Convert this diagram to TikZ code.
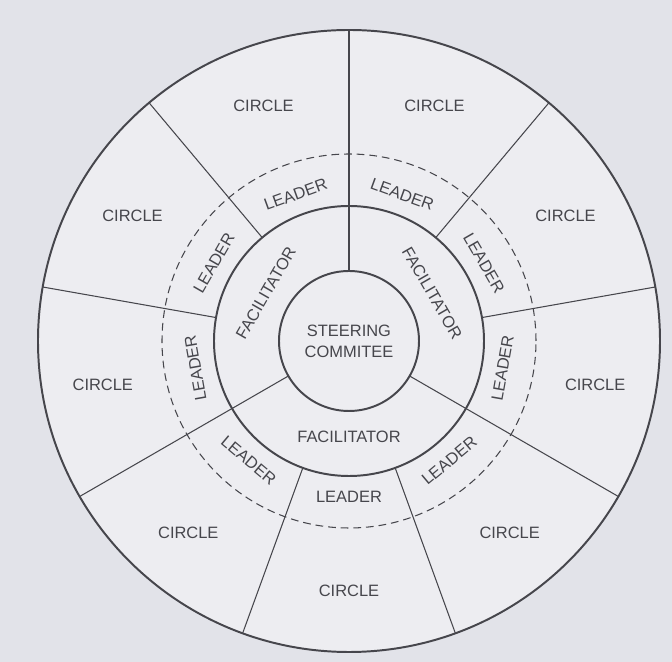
\documentclass[tikz,border=0pt]{standalone}
\usepackage{fontspec}
\setmainfont{Liberation Sans}
\definecolor{cpaper}{RGB}{226,227,233}
\definecolor{cdisk}{RGB}{237,237,241}
\definecolor{cink}{RGB}{70,70,76}
\tikzset{
  every picture/.style={font=\fontsize{11.7}{15}\selectfont, line width=1.4pt},
  ring/.style={circle, draw=cink, outer sep=0pt, inner sep=0pt, minimum size=#1},
  spoke/.style={draw=cink, line width=0.75pt},
  tag/.style={text=cink, inner sep=1pt},
}

\begin{document}
\begin{tikzpicture}
  \useasboundingbox[fill=cpaper] (-8.725,-8.025) rectangle (8.075,8.525);
  \node[ring=15.55cm, fill=cdisk] (rim) at (0,0) {};
  \node[ring=9.35cm, line width=0.75pt, dash pattern=on 5.5pt off 3.5pt] (dash) at (0,0) {};
  \node[ring=6.75cm] (fac) at (0,0) {};
  \node[ring=3.5cm, tag, align=center] (steer) at (0,0) {STEERING\\COMMITEE};
  % three spokes run in to the steering committee
  \foreach \a in {90,210,330} \draw[spoke] (steer.\a) -- (rim.\a);
  \foreach \a in {10,50,130,170,250,290} \draw[spoke] (fac.\a) -- (rim.\a);
  \foreach \a [count=\i] in {30,70,...,350} \node[tag] (circ\i) at (\a:6.25) {CIRCLE};
  \foreach \a/\r [count=\i] in {30/-60,70/-20,110/20,150/60,190/100,230/-40,270/0,310/40,350/80}
    \node[tag, rotate=\r] (lead\i) at (\a:3.9) {LEADER};
  \foreach \a/\r [count=\i] in {30/-60,150/60,270/0}
    \node[tag, rotate=\r] (facil\i) at (\a:2.4) {FACILITATOR};
\end{tikzpicture}
\end{document}
